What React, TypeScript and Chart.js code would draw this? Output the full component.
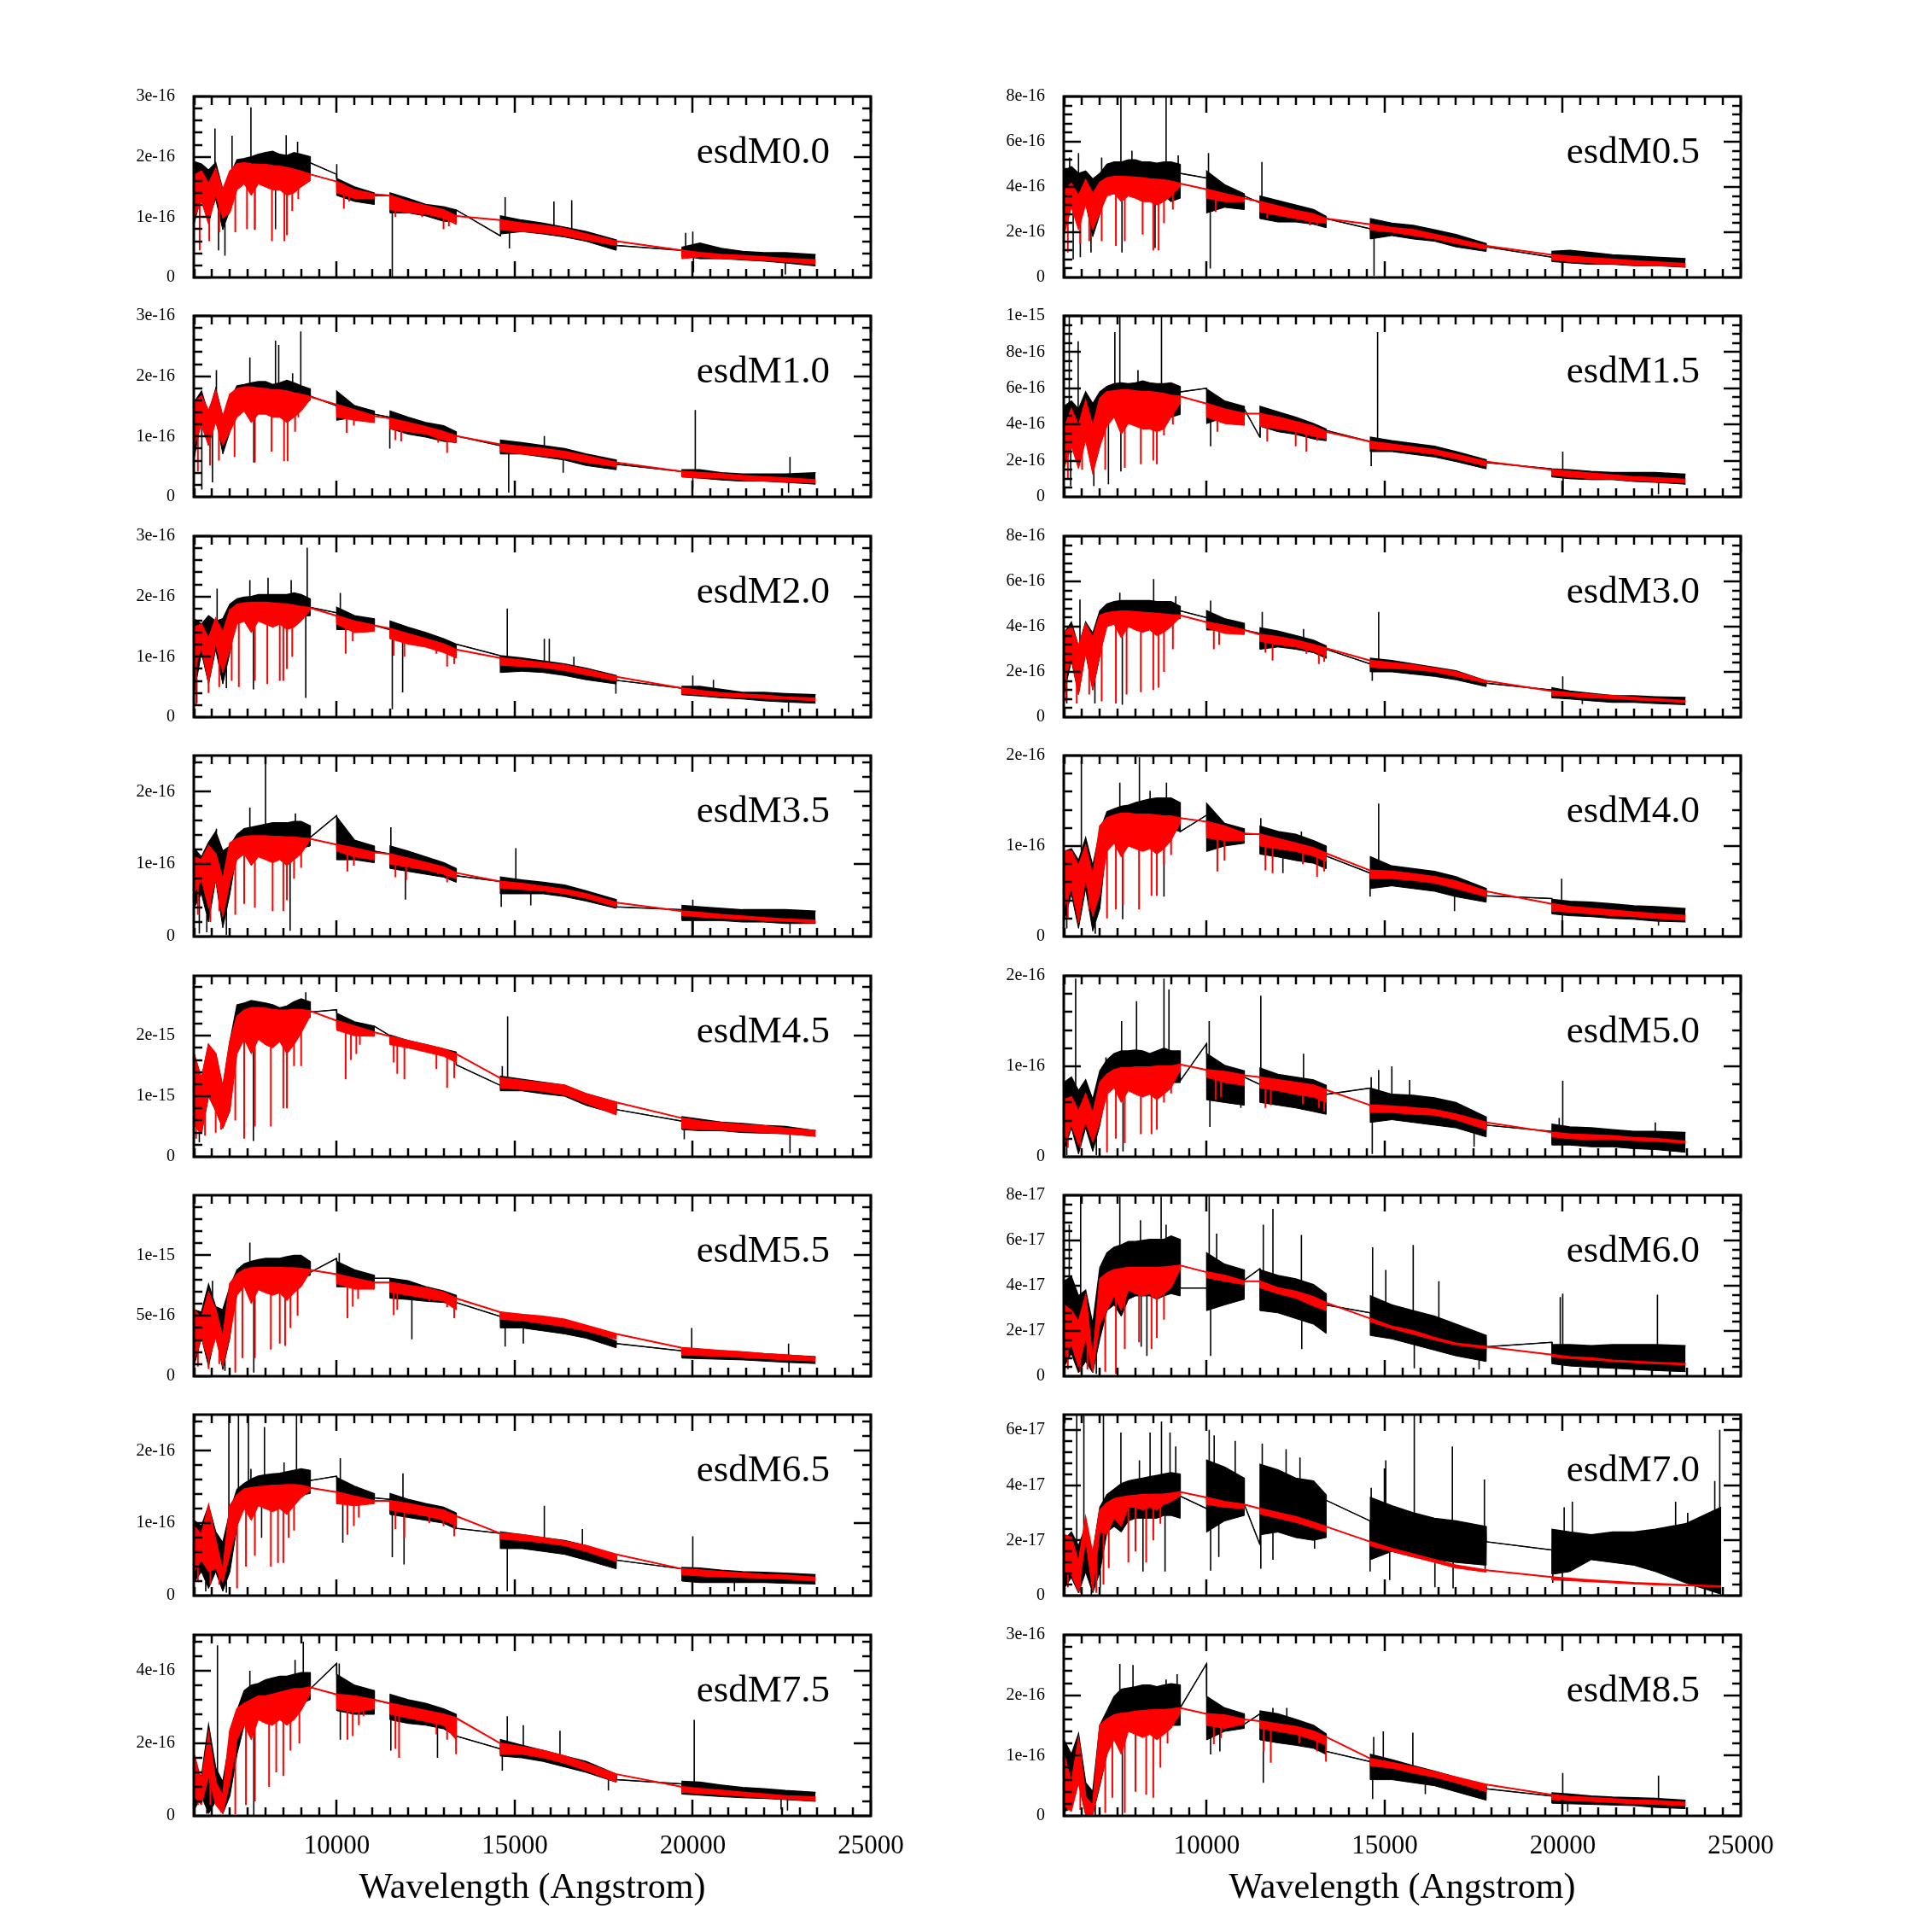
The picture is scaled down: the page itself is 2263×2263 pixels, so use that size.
import React, { useEffect, useRef } from "react";
import { Chart, registerables } from "chart.js";

Chart.register(...registerables);

const SERIF = "'Liberation Serif', 'Times New Roman', 'DejaVu Serif', serif";
Chart.defaults.font.family = SERIF;

const RED = "#ff0000";
const BLACK = "#000000";

// wavelength samples (Angstrom) of the five observing windows: optical, J (two parts), H, K
const GRID_OPT = [5990, 6200, 6400, 6600, 6800, 7000, 7200, 7400, 7600, 7800, 8000, 8200, 8400, 8600, 8800, 9000, 9250];
const GRID_J1 = [10000, 10500, 11050];
const GRID_J2 = [11500, 12000, 12500, 13000, 13350];
const GRID_H = [14600, 15200, 15800, 16400, 17000, 17850];
const GRID_K = [19700, 20200, 20800, 21400, 22000, 22600, 23450, 24450];
const WINDOWS = [GRID_OPT, GRID_J1, GRID_J2, GRID_H, GRID_K];

const X_MIN = 5985;
const X_MAX = 25000;
const X_TICKS = [10000, 15000, 20000, 25000];
const X_MINOR = 500;
const X_MAJOR = 5000;
const X_TITLE = "Wavelength (Angstrom)";

// ---- esdM0.0 (units 1e-16) ----
const M00_OBS_HI = [[1.92,1.88,1.78,1.9,1.45,1.69,1.95,1.97,2.0,2.04,2.07,2.09,2.04,2.02,2.07,2.04,2.0],[1.64,1.5,1.4],[1.4,1.31,1.21,1.17,1.12],[1.02,0.95,0.9,0.83,0.76,0.62],[0.5,0.57,0.48,0.43,0.41,0.41,0.38]];
const M00_OBS_LO = [[0.88,1.36,0.98,1.3,0.79,1.12,1.73,1.73,1.64,1.73,1.78,1.73,1.69,1.64,1.71,1.69,1.71],[1.36,1.26,1.21],[1.07,1.07,1.02,0.93,0.93],[0.72,0.76,0.72,0.67,0.6,0.45],[0.36,0.31,0.31,0.29,0.27,0.24,0.19]];
const M00_MOD_HI = [[1.69,1.76,1.55,1.8,1.45,1.76,1.88,1.9,1.88,1.87,1.87,1.85,1.84,1.82,1.79,1.76,1.71],[1.59,1.45,1.38],[1.36,1.26,1.19,1.12,1.02],[0.95,0.9,0.86,0.81,0.72,0.6],[0.45,0.41,0.38,0.36,0.34,0.31,0.29]];
const M00_MOD_LO = [[0.98,1.26,0.88,1.36,0.98,1.07,1.45,1.55,1.36,1.55,1.5,1.45,1.45,1.36,1.4,1.5,1.6],[1.4,1.31,1.31],[1.12,1.07,1.05,0.98,0.88],[0.79,0.76,0.74,0.69,0.62,0.53],[0.31,0.34,0.31,0.3,0.28,0.26,0.22]];
const M00_GAPS = [1.9,1.71,1.36,1.36,1.12,0.69,0.53,0.45];
const M00_SPIKES = [[6580,2.47],[7060,2.35],[7590,2.82],[8580,2.36],[8900,2.25],[6680,0.45],[6860,0.36],[7700,0.79],[8280,0.8],[10000,1.88],[11560,0.0],[14730,1.33],[16100,1.26],[16600,1.28],[14850,0.48],[19800,0.74],[20000,0.76],[20020,0.08],[22600,0.05]];
const M00_DIPS = [[6150,0.45],[6420,0.6],[6700,0.75],[7150,0.75],[7480,0.8],[7700,0.8],[8180,0.6],[8530,0.6],[8600,0.7],[8750,1.1],[8920,1.3],[10200,1.14],[10350,1.26],[11650,1.0],[12400,1.0],[13000,0.8],[13150,0.85]];
const M00_YLABELS = ["0", "1e-16", "2e-16", "3e-16"];

// ---- esdM0.5 (units 1e-16) ----
const M05_OBS_HI = [[4.7,4.9,4.6,4.7,4.35,4.6,5.0,5.1,5.1,5.2,5.2,5.1,5.1,5.05,5.1,5.1,5.0],[4.7,4.1,3.7],[3.6,3.4,3.2,3.0,2.7],[2.6,2.4,2.3,2.1,1.9,1.5],[1.15,1.2,1.1,1.0,0.95,0.9,0.83]];
const M05_OBS_LO = [[2.8,3.5,2.6,3.3,1.8,2.8,3.85,4.1,3.6,3.7,3.6,3.5,3.6,3.5,3.6,3.35,3.5],[2.85,3.1,3.0],[2.6,2.45,2.45,2.35,2.2],[1.7,1.85,1.7,1.6,1.35,1.15],[0.7,0.64,0.58,0.58,0.52,0.52,0.45]];
const M05_MOD_HI = [[3.85,4.15,3.6,4.3,3.7,4.2,4.4,4.45,4.45,4.44,4.42,4.4,4.35,4.33,4.3,4.25,4.15],[3.9,3.7,3.5],[3.35,3.15,2.95,2.8,2.6],[2.35,2.2,2.1,1.9,1.7,1.4],[1.0,0.93,0.86,0.8,0.73,0.68,0.6]];
const M05_MOD_LO = [[1.85,3.1,2.1,3.2,2.1,2.85,3.6,3.7,3.35,3.6,3.5,3.35,3.35,3.2,3.35,3.6,4.0],[3.5,3.35,3.35],[2.9,2.75,2.6,2.45,2.4],[2.1,2.0,1.85,1.7,1.5,1.25],[0.77,0.7,0.64,0.6,0.55,0.52,0.48]];
const M05_GAPS = [4.6,4.4,3.6,3.3,2.6,2.15,1.35,0.9];
const M05_SPIKES = [[6150,5.3],[6400,5.5],[7050,5.3],[7590,8.2],[7900,5.6],[8860,8.2],[9200,5.4],[6250,0.8],[6450,0.9],[6750,1.1],[7620,1.1],[8550,1.3],[10050,5.5],[10100,0.4],[11550,5.1],[14700,0.08],[20000,0.2]];
const M05_DIPS = [[6100,1.1],[6450,1.5],[6700,1.6],[7050,1.6],[7450,1.4],[7700,1.6],[8200,1.9],[8500,1.2],[8650,1.2],[8800,2.4],[9050,3.0],[10250,2.9],[11700,2.6],[12900,2.3],[13100,2.3]];
const M05_YLABELS = ["0", "2e-16", "4e-16", "6e-16", "8e-16"];

// ---- esdM1.0 (units 1e-16) ----
const M10_OBS_HI = [[1.56,1.75,1.37,1.79,1.32,1.6,1.84,1.86,1.89,1.91,1.91,1.86,1.89,1.93,1.89,1.84,1.79],[1.75,1.51,1.42],[1.42,1.32,1.23,1.18,1.08],[0.94,0.9,0.85,0.8,0.71,0.61],[0.45,0.45,0.4,0.38,0.38,0.38,0.4]];
const M10_OBS_LO = [[0.61,1.32,0.85,1.32,0.71,1.08,1.56,1.7,1.65,1.7,1.7,1.65,1.6,1.56,1.6,1.56,1.6],[1.27,1.32,1.27],[1.13,1.04,0.99,0.92,0.9],[0.71,0.71,0.66,0.61,0.52,0.45],[0.33,0.31,0.28,0.26,0.26,0.24,0.21]];
const M10_MOD_HI = [[1.56,1.67,1.42,1.75,1.32,1.7,1.79,1.82,1.82,1.8,1.79,1.77,1.77,1.75,1.72,1.7,1.66],[1.53,1.44,1.34],[1.3,1.23,1.16,1.08,1.01],[0.87,0.83,0.8,0.75,0.68,0.57],[0.42,0.4,0.38,0.35,0.33,0.31,0.28]];
const M10_MOD_LO = [[0.85,1.18,0.85,1.23,0.85,1.08,1.32,1.42,1.23,1.37,1.37,1.32,1.32,1.23,1.32,1.42,1.61],[1.32,1.27,1.23],[1.13,1.08,1.04,0.94,0.9],[0.75,0.71,0.68,0.64,0.57,0.5],[0.33,0.31,0.31,0.28,0.26,0.25,0.23]];
const M10_GAPS = [1.67,1.51,1.37,1.32,1.01,0.85,0.54,0.42];
const M10_SPIKES = [[6620,2.1],[7560,2.31],[8280,2.59],[8370,2.52],[8990,2.74],[8760,2.05],[6210,0.12],[6510,0.24],[7670,0.57],[11490,0.8],[14830,0.07],[15830,1.01],[16360,0.4],[20070,1.44],[20000,0.15],[22730,0.66],[22690,0.07]];
const M10_DIPS = [[6100,0.42],[6440,0.52],[6690,0.6],[7130,0.66],[7700,0.57],[8170,0.75],[8520,0.59],[8620,0.59],[8830,1.08],[8920,1.32],[10280,1.06],[10480,1.18],[11650,0.94],[11810,0.92],[12850,0.9],[13100,0.73]];
const M10_YLABELS = ["0", "1e-16", "2e-16", "3e-16"];

// ---- esdM1.5 (units 1e-16) ----
const M15_OBS_HI = [[5.0,5.3,4.85,5.8,5.15,5.8,6.1,6.25,6.3,6.25,6.3,6.4,6.3,6.25,6.25,6.3,6.1],[5.95,5.3,5.0],[5.0,4.7,4.4,4.05,3.75],[3.3,3.1,2.95,2.8,2.5,2.05],[1.55,1.5,1.4,1.35,1.35,1.35,1.25]];
const M15_OBS_LO = [[2.8,3.6,2.35,3.6,1.4,2.8,4.4,4.85,4.4,4.7,4.55,4.4,4.4,4.25,4.4,4.4,4.55],[4.05,4.4,4.2],[3.9,3.6,3.45,3.2,3.1],[2.5,2.5,2.35,2.2,1.95,1.55],[1.1,1.0,0.95,0.95,0.85,0.8,0.7]];
const M15_MOD_HI = [[3.75,4.85,3.9,5.3,3.9,5.45,5.8,5.85,5.9,5.9,5.85,5.8,5.8,5.75,5.7,5.6,5.55],[5.15,4.85,4.6],[4.6,4.4,4.15,3.9,3.6],[3.05,2.9,2.75,2.6,2.35,1.95],[1.5,1.4,1.3,1.2,1.1,1.05,0.95]];
const M15_MOD_LO = [[1.55,2.8,1.55,3.1,1.25,2.8,3.9,4.4,3.45,4.05,3.9,3.75,3.75,3.6,3.75,4.4,5.15],[4.4,4.05,3.95],[3.9,3.75,3.6,3.35,3.2],[2.65,2.6,2.5,2.35,2.1,1.7],[1.2,1.1,1.0,0.97,0.9,0.84,0.78]];
const M15_GAPS = [5.8,6.0,4.85,3.3,3.67,3.05,1.9,1.55];
const M15_SPIKES = [[7420,9.1],[7560,10.5],[8730,10.5],[6390,8.6],[6140,10.5],[8070,7.0],[6180,0.6],[7240,0.7],[6830,0.6],[7590,1.4],[10110,2.8],[14800,9.1],[14620,1.7],[20000,2.5],[20010,0.1],[22690,0.15]];
const M15_DIPS = [[6100,1.0],[6500,1.5],[7150,1.5],[7700,1.6],[8150,1.8],[8500,2.0],[8600,1.8],[8800,3.4],[9050,4.0],[10300,3.6],[11700,3.05],[12500,2.8],[12800,2.5],[13100,3.1]];
const M15_YLABELS = ["0", "2e-16", "4e-16", "6e-16", "8e-16", "1e-15"];

// ---- esdM2.0 (units 1e-16) ----
const M20_OBS_HI = [[1.63,1.54,1.68,1.59,1.63,1.87,1.96,1.99,2.0,2.03,2.03,2.03,2.03,2.03,2.06,2.03,1.96],[1.82,1.68,1.63],[1.59,1.49,1.4,1.3,1.21],[1.02,0.98,0.93,0.88,0.81,0.69],[0.51,0.51,0.46,0.41,0.41,0.39,0.37]];
const M20_OBS_LO = [[0.37,1.07,0.55,1.12,0.55,1.07,1.68,1.68,1.59,1.73,1.73,1.68,1.68,1.68,1.68,1.68,1.68],[1.45,1.45,1.45],[1.3,1.26,1.21,1.12,1.02],[0.74,0.76,0.74,0.69,0.62,0.55],[0.37,0.35,0.32,0.3,0.27,0.25,0.23]];
const M20_MOD_HI = [[1.49,1.54,1.3,1.63,1.4,1.77,1.87,1.89,1.9,1.9,1.9,1.89,1.88,1.87,1.85,1.83,1.81],[1.68,1.59,1.52],[1.47,1.38,1.3,1.21,1.12],[0.98,0.94,0.9,0.86,0.79,0.67],[0.48,0.44,0.4,0.38,0.36,0.33,0.31]];
const M20_MOD_LO = [[0.74,1.16,0.55,1.21,0.74,1.12,1.54,1.59,1.4,1.59,1.54,1.49,1.54,1.45,1.49,1.59,1.77],[1.54,1.4,1.42],[1.3,1.21,1.16,1.07,0.98],[0.86,0.84,0.82,0.77,0.7,0.6],[0.39,0.37,0.34,0.33,0.31,0.3,0.27]];
const M20_GAPS = [1.82,1.73,1.52,1.45,1.21,1.02,0.61,0.48];
const M20_SPIKES = [[6640,2.13],[7560,2.27],[8720,2.27],[9170,2.81],[8070,2.31],[6070,0.23],[6900,0.48],[7660,0.46],[9130,0.32],[10100,2.06],[11560,0.13],[11850,0.41],[14790,1.8],[15830,1.3],[15970,1.3],[16660,1.0],[17840,0.39],[20000,0.69],[20580,0.62],[22690,0.08]];
const M20_DIPS = [[6050,0.2],[6400,0.4],[6700,0.5],[7050,0.6],[7250,0.5],[7700,0.6],[8050,0.55],[8400,0.6],[8500,0.6],[8600,0.8],[8750,1.0],[10250,1.05],[10450,1.26],[11600,1.02],[11900,1.0],[12800,1.05],[13100,0.84],[13300,0.88]];
const M20_YLABELS = ["0", "1e-16", "2e-16", "3e-16"];

// ---- esdM3.0 (units 1e-16) ----
const M30_OBS_HI = [[3.7,4.2,3.1,4.2,3.7,4.7,5.0,5.1,5.15,5.15,5.15,5.15,5.15,5.1,5.1,5.1,4.9],[4.7,4.35,4.15],[3.95,3.8,3.6,3.4,3.15],[2.6,2.5,2.35,2.2,2.05,1.6],[1.3,1.15,1.05,0.95,0.94,0.9,0.87]];
const M30_OBS_LO = [[1.0,2.5,1.0,2.85,1.2,2.7,4.35,4.5,4.2,4.5,4.5,4.35,4.35,4.35,4.3,4.3,4.35],[3.85,3.85,3.7],[3.0,3.1,3.0,2.85,2.6],[2.0,2.0,1.9,1.8,1.65,1.35],[0.85,0.8,0.72,0.65,0.65,0.6,0.55]];
const M30_MOD_HI = [[3.7,4.0,3.1,4.1,3.5,4.5,4.6,4.65,4.68,4.68,4.65,4.62,4.6,4.58,4.55,4.52,4.5],[4.2,4.05,3.85],[3.65,3.55,3.4,3.2,3.05],[2.5,2.4,2.3,2.15,2.0,1.6],[1.15,1.07,1.0,0.94,0.87,0.8,0.72]];
const M30_MOD_LO = [[1.5,2.6,1.0,2.85,1.2,2.75,4.0,4.1,3.5,4.0,3.85,3.75,3.85,3.6,3.75,4.0,4.4],[3.95,3.7,3.65],[3.35,3.2,3.1,2.9,2.7],[2.2,2.15,2.1,2.0,1.8,1.5],[0.97,0.92,0.85,0.82,0.76,0.72,0.64]];
const M30_GAPS = [4.7,4.4,3.85,3.7,3.0,2.35,1.5,1.2];
const M30_SPIKES = [[6440,5.2],[7560,5.5],[8510,6.1],[9130,5.35],[6070,0.6],[6860,0.6],[7630,0.55],[10110,5.15],[11560,4.65],[12720,3.9],[14830,4.65],[14650,1.6],[20000,1.8],[20550,0.58]];
const M30_DIPS = [[6050,0.7],[6350,0.6],[6700,1.0],[7050,0.7],[7450,0.6],[7750,1.0],[8150,1.1],[8500,1.2],[8650,1.3],[8800,2.0],[9050,3.0],[10200,3.0],[10350,3.2],[11650,2.85],[11850,2.5],[12800,2.8],[13150,2.35],[13300,2.45]];
const M30_YLABELS = ["0", "2e-16", "4e-16", "6e-16", "8e-16"];

// ---- esdM3.5 (units 1e-16) ----
const M35_OBS_HI = [[1.22,1.1,1.3,1.45,1.18,1.25,1.41,1.49,1.51,1.53,1.55,1.57,1.57,1.57,1.59,1.59,1.53],[1.65,1.33,1.25],[1.25,1.18,1.1,1.02,0.94],[0.82,0.78,0.75,0.71,0.63,0.51],[0.43,0.41,0.39,0.37,0.37,0.37,0.35]];
const M35_OBS_LO = [[0.39,0.59,0.2,0.78,0.12,0.59,1.18,1.25,1.14,1.25,1.25,1.22,1.22,1.18,1.22,1.22,1.25],[1.06,1.06,1.02],[0.94,0.9,0.86,0.82,0.75],[0.59,0.59,0.59,0.55,0.49,0.39],[0.22,0.22,0.22,0.2,0.2,0.18,0.18]];
const M35_MOD_HI = [[1.1,1.06,1.25,1.14,0.78,1.29,1.35,1.38,1.39,1.39,1.39,1.38,1.38,1.37,1.37,1.36,1.35],[1.27,1.22,1.16],[1.14,1.08,1.02,0.96,0.88],[0.76,0.73,0.69,0.65,0.59,0.47],[0.35,0.33,0.3,0.28,0.26,0.24,0.22]];
const M35_MOD_LO = [[0.59,0.78,0.39,0.78,0.27,0.75,1.06,1.14,0.98,1.1,1.06,1.02,1.06,0.98,1.06,1.14,1.33],[1.18,1.1,1.06],[1.0,0.96,0.92,0.86,0.8],[0.67,0.65,0.63,0.59,0.53,0.41],[0.29,0.27,0.25,0.24,0.22,0.21,0.19]];
const M35_GAPS = [1.37,1.67,1.18,1.14,0.84,0.76,0.41,0.37];
const M35_SPIKES = [[8000,2.5],[7560,1.78],[8840,1.7],[6620,1.49],[6140,0.04],[6900,0.02],[8690,0.08],[6350,0.06],[11520,1.51],[11930,0.51],[15030,1.22],[14620,0.41],[15450,0.43],[20000,0.51],[20010,0.02],[22730,0.04]];
const M35_DIPS = [[6100,0.3],[6450,0.2],[6700,0.35],[7150,0.3],[7400,0.45],[7700,0.4],[8200,0.35],[8500,0.35],[8600,0.5],[8800,0.8],[9000,0.95],[10300,0.9],[10480,0.98],[11650,0.82],[11950,0.78],[12850,0.86],[13100,0.75]];
const M35_YLABELS = ["0", "1e-16", "2e-16"];

// ---- esdM4.0 (units 1e-16) ----
const M40_OBS_HI = [[0.94,0.97,0.84,1.09,0.78,1.16,1.38,1.41,1.44,1.45,1.48,1.5,1.52,1.53,1.53,1.53,1.48],[1.47,1.25,1.19],[1.22,1.16,1.13,1.06,1.0],[0.88,0.78,0.75,0.72,0.66,0.53],[0.41,0.39,0.38,0.36,0.34,0.33,0.31]];
const M40_OBS_LO = [[0.16,0.47,0.09,0.53,0.06,0.31,1.09,1.13,1.03,1.16,1.16,1.13,1.13,1.09,1.16,1.19,1.16],[0.94,1.0,1.03],[0.91,0.88,0.84,0.81,0.75],[0.53,0.56,0.53,0.5,0.44,0.38],[0.25,0.23,0.22,0.2,0.19,0.17,0.16]];
const M40_MOD_HI = [[0.94,0.94,0.78,1.0,0.66,1.22,1.31,1.34,1.36,1.36,1.35,1.35,1.35,1.34,1.33,1.33,1.31],[1.27,1.22,1.14],[1.13,1.08,1.03,0.98,0.92],[0.73,0.72,0.69,0.66,0.61,0.5],[0.36,0.33,0.31,0.29,0.27,0.25,0.23]];
const M40_MOD_LO = [[0.31,0.53,0.16,0.63,0.22,0.47,0.94,1.03,0.88,1.0,0.97,0.94,0.97,0.91,0.97,1.06,1.25],[1.09,1.06,1.06],[1.0,0.97,0.94,0.89,0.83],[0.64,0.64,0.62,0.59,0.53,0.44],[0.28,0.27,0.25,0.23,0.22,0.2,0.18]];
const M40_GAPS = [1.16,1.34,1.13,1.13,0.89,0.7,0.45,0.42];
const M40_SPIKES = [[6480,1.94],[7560,1.7],[8110,1.98],[8870,1.7],[8410,1.61],[6070,0.09],[6870,0.03],[7640,0.19],[8800,0.44],[11520,1.31],[12660,1.16],[12140,0.7],[14830,1.47],[14590,0.44],[16960,0.28],[19970,0.64],[19990,0.09],[22690,0.12]];
const M40_DIPS = [[6100,0.2],[6400,0.15],[6700,0.3],[7200,0.2],[7450,0.3],[7650,0.35],[8100,0.3],[8450,0.45],[8600,0.45],[8800,0.8],[9000,0.9],[10300,0.72],[10500,0.84],[11650,0.73],[11850,0.7],[12700,0.8],[13100,0.66],[13300,0.72]];
const M40_YLABELS = ["0", "1e-16", "2e-16"];

// ---- esdM4.5 (units 1e-15) ----
const M45_OBS_HI = [[1.7,1.28,1.85,1.7,1.14,1.9,2.51,2.54,2.58,2.56,2.54,2.51,2.46,2.49,2.56,2.61,2.56],[2.37,2.23,2.16],[2.01,1.92,1.85,1.78,1.73],[1.33,1.28,1.23,1.18,1.04,0.9],[0.66,0.62,0.57,0.55,0.52,0.5,0.43]];
const M45_OBS_LO = [[0.52,0.38,1.0,0.76,0.47,0.76,2.2,2.3,2.2,2.3,2.25,2.2,2.2,2.15,2.3,2.3,2.3],[2.13,2.08,2.06],[1.88,1.8,1.75,1.7,1.66],[1.09,1.09,1.04,1.0,0.85,0.71],[0.45,0.43,0.43,0.4,0.39,0.38,0.34]];
const M45_MOD_HI = [[1.7,1.28,1.85,1.7,1.14,1.9,2.32,2.42,2.46,2.46,2.45,2.43,2.42,2.42,2.43,2.43,2.41],[2.25,2.16,2.06],[1.99,1.92,1.85,1.78,1.7],[1.3,1.26,1.22,1.18,1.04,0.9],[0.64,0.59,0.56,0.53,0.51,0.47,0.43]];
const M45_MOD_LO = [[0.52,0.38,1.0,0.76,0.47,0.76,1.7,1.94,1.7,1.94,1.85,1.8,1.9,1.7,1.85,2.04,2.32],[2.09,2.0,1.99],[1.85,1.8,1.73,1.66,1.56],[1.14,1.11,1.08,1.02,0.88,0.69],[0.47,0.45,0.44,0.42,0.4,0.38,0.34]];
const M45_GAPS = [2.39,2.43,2.16,2.0,1.52,1.18,0.78,0.59];
const M45_SPIKES = [[7590,2.56],[9130,2.72],[7660,0.26],[6140,0.24],[14800,2.32],[14650,1.5],[22730,0.06],[19760,0.29]];
const M45_DIPS = [[6050,0.3],[6300,0.35],[6600,0.4],[6750,0.45],[7150,0.6],[7400,0.3],[7700,0.5],[8150,0.5],[8500,0.8],[8600,0.8],[8800,1.5],[9000,1.5],[10250,1.28],[10400,1.6],[10550,1.7],[10650,1.85],[11600,1.56],[11700,1.37],[11900,1.28],[12800,1.45],[13100,1.14],[13300,1.3]];
const M45_YLABELS = ["0", "1e-15", "2e-15"];

// ---- esdM5.0 (units 1e-16) ----
const M50_OBS_HI = [[0.82,0.88,0.73,0.85,0.63,0.95,1.07,1.14,1.17,1.17,1.18,1.17,1.14,1.17,1.2,1.17,1.17],[1.14,1.01,0.95],[0.98,0.91,0.88,0.85,0.79],[0.76,0.69,0.68,0.65,0.6,0.44],[0.36,0.33,0.32,0.3,0.28,0.28,0.27]];
const M50_OBS_LO = [[0.06,0.32,0.03,0.32,0.06,0.35,0.76,0.82,0.73,0.82,0.82,0.79,0.76,0.73,0.79,0.82,0.82],[0.63,0.6,0.57],[0.6,0.57,0.54,0.5,0.47],[0.38,0.41,0.38,0.35,0.32,0.22],[0.13,0.13,0.11,0.11,0.09,0.08,0.05]];
const M50_MOD_HI = [[0.63,0.66,0.5,0.69,0.47,0.82,0.91,0.96,0.98,0.98,0.99,0.99,0.99,1.0,1.0,1.0,1.02],[0.96,0.94,0.9],[0.88,0.85,0.82,0.79,0.74],[0.57,0.56,0.54,0.52,0.47,0.38],[0.27,0.25,0.24,0.23,0.21,0.2,0.17]];
const M50_MOD_LO = [[0.13,0.35,0.13,0.38,0.16,0.38,0.69,0.76,0.6,0.73,0.69,0.66,0.69,0.63,0.69,0.76,0.95],[0.88,0.82,0.79],[0.76,0.73,0.69,0.66,0.6],[0.49,0.49,0.47,0.46,0.41,0.3],[0.22,0.2,0.19,0.19,0.18,0.17,0.15]];
const M50_GAPS = [0.84,1.25,0.88,0.8,0.69,0.76,0.35,0.28];
const M50_SPIKES = [[6320,1.97],[7610,1.5],[8030,1.72],[8800,1.97],[8940,1.85],[7170,1.1],[6070,0.02],[6900,0.02],[7650,0.06],[10070,1.5],[10090,0.33],[10960,0.54],[11520,1.78],[12720,1.14],[14620,0.88],[14830,0.96],[15700,0.85],[15200,1.0],[14650,0.03],[17510,0.11],[20000,0.84],[19900,0.43],[22600,0.38]];
const M50_DIPS = [[6100,0.1],[6450,0.1],[6700,0.3],[7200,0.05],[7450,0.2],[7700,0.15],[8150,0.25],[8450,0.25],[8600,0.3],[8800,0.6],[9000,0.7],[10250,0.63],[10400,0.66],[11650,0.54],[11800,0.57],[12700,0.58],[13150,0.54],[13300,0.5]];
const M50_YLABELS = ["0", "1e-16", "2e-16"];

// ---- esdM5.5 (units 1e-16) ----
const M55_OBS_HI = [[5.5,5.3,7.6,5.75,5.5,7.4,8.8,9.3,9.5,9.65,9.75,9.75,9.75,9.9,10.0,10.0,9.5],[9.5,8.8,8.35],[8.1,7.9,7.4,7.05,6.7],[5.3,4.95,4.6,4.35,3.9,2.9],[2.35,2.2,2.1,2.0,1.85,1.75,1.6]];
const M55_OBS_LO = [[0.8,3.2,0.8,3.6,0.55,3.2,7.9,8.35,7.6,8.35,8.35,8.1,8.1,7.9,8.1,8.2,8.35],[7.4,7.4,7.4],[6.45,6.35,6.2,6.1,5.9],[4.0,4.0,3.75,3.5,3.15,2.35],[1.5,1.45,1.4,1.35,1.25,1.15,1.05]];
const M55_MOD_HI = [[5.5,4.8,6.9,5.5,3.15,7.65,8.45,8.8,8.95,9.0,9.0,9.0,9.0,8.95,8.95,8.9,8.8],[8.45,8.1,7.75],[7.75,7.5,7.3,6.95,6.45],[5.3,5.1,4.95,4.7,4.2,3.5],[2.35,2.25,2.1,2.0,1.85,1.75,1.55]];
const M55_MOD_LO = [[1.25,3.15,1.25,3.15,0.8,3.4,6.7,7.4,6.0,7.15,6.9,6.7,6.9,6.25,6.9,7.4,8.6],[7.65,7.2,7.2],[6.95,6.7,6.45,6.2,5.5],[4.7,4.6,4.35,4.1,3.75,3.05],[1.75,1.7,1.65,1.55,1.45,1.35,1.25]];
const M55_GAPS = [8.6,9.75,8.1,8.1,6.1,4.95,2.7,2.1];
const M55_SPIKES = [[7560,11.05],[6510,7.9],[7670,0.3],[6860,0.45],[10070,10.2],[12110,3.05],[14730,2.45],[15240,2.7],[19970,4.0],[22690,2.7],[22700,0.33]];
const M55_DIPS = [[6100,0.8],[6400,0.6],[6700,1.0],[7150,0.3],[7350,1.5],[7700,1.5],[8150,2.2],[8400,2.7],[8550,2.5],[8700,4.0],[8900,5.0],[10300,4.8],[10450,5.75],[10600,6.4],[11600,5.05],[11700,5.5],[12600,6.2],[13100,5.7],[13300,4.8]];
const M55_YLABELS = ["0", "5e-16", "1e-15"];

// ---- esdM6.0 (units 1e-17) ----
const M60_OBS_HI = [[4.2,4.4,3.55,3.8,2.3,4.8,5.45,5.7,5.8,5.95,5.95,6.0,6.05,6.05,6.05,6.2,6.05],[5.45,4.95,4.7],[4.7,4.45,4.3,4.05,3.65],[3.55,3.15,2.9,2.65,2.3,1.8],[1.4,1.4,1.35,1.4,1.4,1.4,1.35]];
const M60_OBS_LO = [[0.4,1.0,0.15,0.65,0.15,1.65,2.9,3.15,2.65,3.4,3.55,3.55,3.55,3.4,3.55,3.65,3.55],[2.9,3.15,3.4],[2.9,2.8,2.55,2.3,1.9],[1.8,1.65,1.4,1.15,0.9,0.65],[0.55,0.45,0.4,0.35,0.3,0.25,0.2]];
const M60_MOD_HI = [[3.15,2.9,2.4,3.55,0.65,4.3,4.55,4.7,4.75,4.8,4.8,4.8,4.8,4.8,4.82,4.85,4.9],[4.6,4.45,4.2],[4.2,3.9,3.75,3.5,3.25],[2.55,2.2,2.0,1.7,1.45,1.3],[0.95,0.85,0.8,0.7,0.65,0.6,0.55]];
const M60_MOD_LO = [[0.65,1.4,0.4,1.65,0.15,2.3,2.9,3.55,2.9,3.8,3.65,3.55,3.65,3.4,3.65,3.9,4.7],[4.35,4.2,4.05],[3.9,3.65,3.45,3.1,2.9],[2.4,2.1,1.85,1.6,1.38,1.22],[0.85,0.78,0.72,0.65,0.6,0.55,0.5]];
const M60_GAPS = [3.9,3.9,4.25,4.75,3.15,2.8,1.3,1.5];
const M60_SPIKES = [[6460,7.95],[7560,7.95],[8140,6.9],[8720,7.95],[8860,6.7],[6140,6.7],[6480,0.1],[6900,0.1],[8160,1.3],[8320,0.9],[10070,7.95],[10280,6.3],[10110,0.9],[11860,7.4],[11590,6.7],[12660,6.25],[12670,1.2],[14660,5.7],[15030,4.7],[15800,5.8],[16520,4.2],[15830,0.35],[17650,0.3],[20000,3.65],[19930,3.5],[22660,3.6]];
const M60_DIPS = [[6100,0.3],[6450,0.2],[6650,0.3],[7150,0.2],[7450,0.1],[7700,1.2],[8100,1.5],[8450,1.2],[8600,1.7],[8800,2.5]];
const M60_YLABELS = ["0", "2e-17", "4e-17", "6e-17", "8e-17"];

// ---- esdM6.5 (units 1e-16) ----
const M65_OBS_HI = [[1.04,0.96,1.24,0.88,0.73,1.16,1.47,1.55,1.61,1.65,1.67,1.68,1.69,1.71,1.73,1.75,1.73],[1.63,1.51,1.41],[1.41,1.33,1.27,1.22,1.14],[0.88,0.84,0.8,0.76,0.69,0.55],[0.39,0.38,0.35,0.33,0.32,0.31,0.29]];
const M65_OBS_LO = [[0.18,0.33,0.1,0.33,0.06,0.33,0.96,1.31,1.24,1.35,1.35,1.35,1.35,1.35,1.39,1.39,1.41],[1.27,1.31,1.31],[1.12,1.08,1.04,1.0,0.92],[0.65,0.65,0.61,0.57,0.49,0.37],[0.2,0.18,0.18,0.18,0.18,0.17,0.16]];
const M65_MOD_HI = [[0.96,0.84,1.24,0.76,0.33,1.24,1.39,1.47,1.49,1.5,1.51,1.52,1.52,1.53,1.53,1.52,1.49],[1.43,1.37,1.31],[1.31,1.27,1.22,1.18,1.1],[0.86,0.84,0.8,0.75,0.69,0.57],[0.37,0.35,0.33,0.31,0.29,0.28,0.25]];
const M65_MOD_LO = [[0.33,0.49,0.33,0.37,0.18,0.57,0.96,1.2,1.04,1.24,1.2,1.16,1.2,1.12,1.24,1.35,1.45],[1.27,1.24,1.27],[1.18,1.14,1.1,1.04,0.96],[0.78,0.76,0.73,0.69,0.61,0.47],[0.29,0.27,0.26,0.25,0.24,0.23,0.2]];
const M65_GAPS = [1.59,1.65,1.35,1.33,0.93,0.86,0.49,0.37];
const M65_SPIKES = [[6970,2.6],[7240,2.6],[7520,2.6],[7590,1.75],[7970,2.33],[8520,1.84],[8870,2.6],[6320,0.06],[6900,0.04],[7890,0.8],[10100,1.9],[10170,0.73],[11860,1.69],[11560,0.53],[11890,0.43],[15830,1.24],[16900,0.92],[14790,0.06],[20000,0.82],[21170,0.06]];
const M65_DIPS = [[6100,0.2],[6450,0.15],[6700,0.15],[7200,0.1],[7450,0.4],[7700,0.55],[8150,0.4],[8350,0.45],[8500,0.45],[8650,0.8],[8800,0.9],[10300,0.84],[10480,0.96],[10620,1.08],[11650,0.92],[11900,0.8],[12600,1.0],[13000,0.96],[13300,0.82]];
const M65_YLABELS = ["0", "1e-16", "2e-16"];

// ---- esdM7.0 (units 1e-17) ----
const M70_OBS_HI = [[2.0,2.3,1.8,2.5,1.5,3.2,3.65,3.85,4.05,4.15,4.2,4.25,4.3,4.35,4.4,4.45,4.4],[4.9,4.65,4.25],[4.75,4.55,4.25,4.15,3.65],[3.55,3.25,3.0,2.8,2.7,2.5],[2.4,2.3,2.2,2.3,2.3,2.4,2.6,3.2]];
const M70_OBS_LO = [[0.25,0.65,0.1,0.85,0.1,0.85,2.3,2.5,2.3,2.7,2.8,2.8,2.8,2.8,2.9,2.9,2.8],[2.3,2.7,2.9],[2.2,2.3,2.1,2.0,2.1],[1.3,1.6,1.4,1.3,1.2,1.1],[0.77,0.87,1.3,1.2,1.1,0.87,0.46,0.05]];
const M70_MOD_HI = [[2.2,2.1,1.2,2.8,1.5,3.1,3.35,3.5,3.55,3.6,3.62,3.65,3.65,3.66,3.67,3.7,3.75],[3.55,3.4,3.3],[3.15,3.0,2.85,2.65,2.5],[1.95,1.7,1.5,1.3,1.1,0.92],[0.67,0.62,0.56,0.51,0.46,0.43,0.39,0.34]];
const M70_MOD_LO = [[0.85,0.75,0.15,2.0,0.15,2.3,2.2,2.8,2.5,3.2,3.2,3.1,3.2,3.1,3.3,3.4,3.6],[3.3,3.2,3.15],[2.95,2.8,2.65,2.45,2.3],[1.8,1.6,1.4,1.2,1.0,0.85],[0.57,0.54,0.5,0.46,0.42,0.39,0.36,0.31]];
const M70_GAPS = [3.6,3.15,3.3,1.85,3.45,2.7,1.95,1.65];
const M70_SPIKES = [[6350,6.6],[6550,6.6],[7100,6.6],[7590,5.9],[8410,5.9],[8730,6.3],[8970,5.9],[9130,5.4],[8110,4.9],[6760,0.02],[7010,0.3],[8210,0.87],[8830,0.87],[10070,6.0],[10210,5.8],[10800,5.6],[10110,0.9],[10340,1.4],[11560,5.5],[12230,5.3],[12620,5.0],[11520,0.97],[11860,1.3],[13030,1.7],[14620,3.9],[14990,4.6],[15030,4.9],[15830,6.6],[16900,5.4],[17800,4.2],[14590,0.87],[15140,0.56],[16410,0.3],[16920,0.26],[17820,0.87],[20040,3.2],[20270,3.4],[23170,3.4],[24270,4.15],[24410,6.0],[23510,3.0],[19720,0.46],[19990,0.26],[23720,0.05],[24200,0.0]];
const M70_DIPS = [[6100,0.3],[6450,0.1],[6900,0.1],[7100,0.4],[7250,1.0],[7800,1.2],[8000,1.6],[8300,1.2],[8500,2.0],[8700,2.6]];
const M70_YLABELS = ["0", "2e-17", "4e-17", "6e-17"];

// ---- esdM7.5 (units 1e-16) ----
const M75_OBS_HI = [[1.32,1.08,2.5,1.32,0.93,2.1,2.9,3.45,3.6,3.65,3.75,3.8,3.85,3.85,3.9,3.95,3.95],[3.9,3.6,3.45],[3.35,3.2,3.1,2.95,2.8],[2.1,1.95,1.8,1.65,1.5,1.15],[0.95,0.93,0.85,0.78,0.75,0.7,0.65]];
const M75_OBS_LO = [[0.15,0.55,0.06,0.4,0.06,0.55,1.7,2.5,2.5,2.9,2.95,2.95,3.05,2.95,3.05,3.1,3.2],[2.9,2.8,2.8],[2.65,2.55,2.5,2.4,2.2],[1.65,1.6,1.5,1.35,1.2,0.93],[0.6,0.57,0.53,0.5,0.48,0.45,0.4]];
const M75_MOD_HI = [[1.7,0.93,2.25,0.93,0.53,2.35,2.95,3.1,3.2,3.3,3.3,3.35,3.4,3.45,3.5,3.5,3.55],[3.35,3.3,3.2],[3.1,3.0,2.9,2.8,2.7],[2.0,1.9,1.8,1.65,1.45,1.15],[0.8,0.75,0.7,0.65,0.6,0.55,0.52]];
const M75_MOD_LO = [[0.53,0.3,1.08,0.3,0.06,0.93,2.1,2.5,2.1,2.65,2.55,2.5,2.65,2.5,2.65,2.9,3.35],[2.95,2.85,2.95],[2.8,2.7,2.6,2.5,2.1],[1.7,1.7,1.6,1.45,1.25,0.93],[0.65,0.62,0.58,0.54,0.5,0.46,0.42]];
const M75_GAPS = [3.5,4.2,3.2,3.1,2.2,1.85,1.0,0.88];
const M75_SPIKES = [[6650,4.7],[7560,4.0],[9060,4.8],[8830,4.3],[6350,0.06],[7670,0.02],[10070,4.2],[10100,2.1],[12830,1.6],[11520,1.8],[14790,2.75],[15240,2.5],[16270,2.35],[14650,1.25],[17630,0.7],[20040,2.65],[22660,0.15],[22480,0.18]];
const M75_DIPS = [[6100,0.3],[6450,0.3],[6750,0.1],[7150,0.05],[7450,0.3],[7700,0.4],[8100,0.8],[8300,1.2],[8500,1.1],[8700,1.8],[8950,2.0],[10300,2.1],[10450,2.2],[10620,2.5],[10750,2.75],[11650,1.85],[11750,1.6],[12800,2.25],[13100,2.1],[13350,1.7]];
const M75_YLABELS = ["0", "2e-16", "4e-16"];

// ---- esdM8.5 (units 1e-16) ----
const M85_OBS_HI = [[1.26,1.02,1.36,0.55,0.4,1.5,1.74,1.98,2.1,2.12,2.14,2.17,2.17,2.14,2.17,2.19,2.17],[1.98,1.79,1.69],[1.74,1.69,1.6,1.5,1.36],[1.02,0.93,0.83,0.74,0.64,0.5],[0.38,0.36,0.33,0.31,0.3,0.29,0.26]];
const M85_OBS_LO = [[0.07,0.12,0.55,0.02,0.02,0.5,1.02,1.5,1.5,1.64,1.69,1.64,1.6,1.6,1.55,1.5,1.5],[1.26,1.4,1.45],[1.26,1.21,1.17,1.12,1.02],[0.6,0.6,0.55,0.5,0.4,0.26],[0.21,0.2,0.19,0.18,0.17,0.14,0.12]];
const M85_MOD_HI = [[1.02,0.55,1.26,0.31,0.17,1.5,1.6,1.67,1.7,1.71,1.73,1.74,1.75,1.76,1.76,1.77,1.79],[1.69,1.67,1.6],[1.57,1.52,1.48,1.4,1.31],[0.95,0.88,0.81,0.73,0.64,0.52],[0.35,0.32,0.3,0.28,0.26,0.25,0.22]];
const M85_MOD_LO = [[0.17,0.07,0.55,0.02,0.02,0.55,1.02,1.26,1.02,1.4,1.35,1.3,1.35,1.26,1.35,1.45,1.69],[1.5,1.45,1.52],[1.45,1.4,1.35,1.26,1.17],[0.83,0.79,0.71,0.64,0.55,0.4],[0.27,0.25,0.24,0.22,0.2,0.19,0.17]];
const M85_GAPS = [1.79,2.52,1.52,1.69,1.07,0.9,0.45,0.33];
const M85_SPIKES = [[7560,2.52],[7930,2.5],[8860,2.26],[9170,2.35],[6870,0.0],[7630,0.0],[10110,1.02],[10370,1.07],[11590,0.55],[11860,1.79],[12250,1.79],[14690,1.31],[14960,1.4],[15790,1.38],[14660,0.28],[16140,0.36],[20000,0.71],[22690,0.67],[20140,0.07]];
const M85_DIPS = [[6100,0.1],[6450,0.1],[6700,0.05],[7150,0.05],[7350,0.3],[7700,0.05],[8000,0.4],[8300,0.35],[8500,0.3],[8700,0.8],[8900,1.2],[10200,1.19],[10400,1.29],[11600,1.07],[11800,0.88],[12600,1.2],[13100,1.07],[13350,0.9]];
const M85_YLABELS = ["0", "1e-16", "2e-16", "3e-16"];

type Pt = { x: number; y: number | null };

// the sixteen panels (col, row give the slot in the 2 x 8 grid)
const PANELS = [
  { name: "esdM0.0", col: 0, row: 0, yMax: 3, yStep: 1, yMinor: 0.2, yLabels: M00_YLABELS, obsHi: M00_OBS_HI, obsLo: M00_OBS_LO, modHi: M00_MOD_HI, modLo: M00_MOD_LO, gaps: M00_GAPS, spikes: M00_SPIKES, dips: M00_DIPS },
  { name: "esdM1.0", col: 0, row: 1, yMax: 3, yStep: 1, yMinor: 0.2, yLabels: M10_YLABELS, obsHi: M10_OBS_HI, obsLo: M10_OBS_LO, modHi: M10_MOD_HI, modLo: M10_MOD_LO, gaps: M10_GAPS, spikes: M10_SPIKES, dips: M10_DIPS },
  { name: "esdM2.0", col: 0, row: 2, yMax: 3, yStep: 1, yMinor: 0.2, yLabels: M20_YLABELS, obsHi: M20_OBS_HI, obsLo: M20_OBS_LO, modHi: M20_MOD_HI, modLo: M20_MOD_LO, gaps: M20_GAPS, spikes: M20_SPIKES, dips: M20_DIPS },
  { name: "esdM3.5", col: 0, row: 3, yMax: 2.5, yStep: 1, yMinor: 0.2, yLabels: M35_YLABELS, obsHi: M35_OBS_HI, obsLo: M35_OBS_LO, modHi: M35_MOD_HI, modLo: M35_MOD_LO, gaps: M35_GAPS, spikes: M35_SPIKES, dips: M35_DIPS },
  { name: "esdM4.5", col: 0, row: 4, yMax: 2.99, yStep: 1, yMinor: 0.2, yLabels: M45_YLABELS, obsHi: M45_OBS_HI, obsLo: M45_OBS_LO, modHi: M45_MOD_HI, modLo: M45_MOD_LO, gaps: M45_GAPS, spikes: M45_SPIKES, dips: M45_DIPS },
  { name: "esdM5.5", col: 0, row: 5, yMax: 14.98, yStep: 5, yMinor: 1, yLabels: M55_YLABELS, obsHi: M55_OBS_HI, obsLo: M55_OBS_LO, modHi: M55_MOD_HI, modLo: M55_MOD_LO, gaps: M55_GAPS, spikes: M55_SPIKES, dips: M55_DIPS },
  { name: "esdM6.5", col: 0, row: 6, yMax: 2.5, yStep: 1, yMinor: 0.2, yLabels: M65_YLABELS, obsHi: M65_OBS_HI, obsLo: M65_OBS_LO, modHi: M65_MOD_HI, modLo: M65_MOD_LO, gaps: M65_GAPS, spikes: M65_SPIKES, dips: M65_DIPS },
  { name: "esdM7.5", col: 0, row: 7, yMax: 4.99, yStep: 2, yMinor: 0.4, yLabels: M75_YLABELS, obsHi: M75_OBS_HI, obsLo: M75_OBS_LO, modHi: M75_MOD_HI, modLo: M75_MOD_LO, gaps: M75_GAPS, spikes: M75_SPIKES, dips: M75_DIPS },
  { name: "esdM0.5", col: 1, row: 0, yMax: 8, yStep: 2, yMinor: 0.4, yLabels: M05_YLABELS, obsHi: M05_OBS_HI, obsLo: M05_OBS_LO, modHi: M05_MOD_HI, modLo: M05_MOD_LO, gaps: M05_GAPS, spikes: M05_SPIKES, dips: M05_DIPS },
  { name: "esdM1.5", col: 1, row: 1, yMax: 10, yStep: 2, yMinor: 0.5, yLabels: M15_YLABELS, obsHi: M15_OBS_HI, obsLo: M15_OBS_LO, modHi: M15_MOD_HI, modLo: M15_MOD_LO, gaps: M15_GAPS, spikes: M15_SPIKES, dips: M15_DIPS },
  { name: "esdM3.0", col: 1, row: 2, yMax: 8, yStep: 2, yMinor: 0.4, yLabels: M30_YLABELS, obsHi: M30_OBS_HI, obsLo: M30_OBS_LO, modHi: M30_MOD_HI, modLo: M30_MOD_LO, gaps: M30_GAPS, spikes: M30_SPIKES, dips: M30_DIPS },
  { name: "esdM4.0", col: 1, row: 3, yMax: 2, yStep: 1, yMinor: 0.2, yLabels: M40_YLABELS, obsHi: M40_OBS_HI, obsLo: M40_OBS_LO, modHi: M40_MOD_HI, modLo: M40_MOD_LO, gaps: M40_GAPS, spikes: M40_SPIKES, dips: M40_DIPS },
  { name: "esdM5.0", col: 1, row: 4, yMax: 2, yStep: 1, yMinor: 0.2, yLabels: M50_YLABELS, obsHi: M50_OBS_HI, obsLo: M50_OBS_LO, modHi: M50_MOD_HI, modLo: M50_MOD_LO, gaps: M50_GAPS, spikes: M50_SPIKES, dips: M50_DIPS },
  { name: "esdM6.0", col: 1, row: 5, yMax: 8, yStep: 2, yMinor: 0.4, yLabels: M60_YLABELS, obsHi: M60_OBS_HI, obsLo: M60_OBS_LO, modHi: M60_MOD_HI, modLo: M60_MOD_LO, gaps: M60_GAPS, spikes: M60_SPIKES, dips: M60_DIPS },
  { name: "esdM7.0", col: 1, row: 6, yMax: 6.55, yStep: 2, yMinor: 0.4, yLabels: M70_YLABELS, obsHi: M70_OBS_HI, obsLo: M70_OBS_LO, modHi: M70_MOD_HI, modLo: M70_MOD_LO, gaps: M70_GAPS, spikes: M70_SPIKES, dips: M70_DIPS },
  { name: "esdM8.5", col: 1, row: 7, yMax: 3, yStep: 1, yMinor: 0.2, yLabels: M85_YLABELS, obsHi: M85_OBS_HI, obsLo: M85_OBS_LO, modHi: M85_MOD_HI, modLo: M85_MOD_LO, gaps: M85_GAPS, spikes: M85_SPIKES, dips: M85_DIPS },
];
type PanelSpec = (typeof PANELS)[number];

// page geometry (px)
const PLOT_LEFT = [227, 1246];
const PLOT_TOP = 113;
const ROW_PITCH = 257.4;
const PLOT_W = 793;
const PLOT_H = 212;
const AXIS_W = 90;
const PAD = 15;
const PAD_RIGHT = 45;
const X_AXIS_H = 110;
const LAST_ROW = 7;

// upper and lower edge of a band, with a single thin line across each gap between windows
function band(hi: number[][], lo: number[][], gaps: number[] | null) {
  const top: Pt[] = [];
  const bot: Pt[] = [];
  WINDOWS.forEach((grid, s) => {
    const h = hi[s] || [];
    const l = lo[s] || [];
    const n = Math.min(grid.length, h.length, l.length);
    if (!n) return;
    if (s > 0) {
      const c = gaps ? gaps[2 * s - 1] : h[0];
      top.push({ x: grid[0] - 6, y: c });
      bot.push({ x: grid[0] - 6, y: c });
    }
    for (let i = 0; i < n; i++) {
      top.push({ x: grid[i], y: h[i] });
      bot.push({ x: grid[i], y: l[i] });
    }
    if (s < WINDOWS.length - 1) {
      const c = gaps ? gaps[2 * s] : h[n - 1];
      top.push({ x: grid[n - 1] + 6, y: c });
      bot.push({ x: grid[n - 1] + 6, y: c });
    }
  });
  return { top, bot };
}

function valueAt(line: Pt[], w: number): number | null {
  for (let i = 1; i < line.length; i++) {
    const a = line[i - 1];
    const b = line[i];
    if (w >= a.x && w <= b.x && a.y != null && b.y != null) {
      const t = b.x === a.x ? 0 : (w - a.x) / (b.x - a.x);
      return a.y + t * (b.y - a.y);
    }
  }
  return null;
}

// single narrow features (emission spikes / absorption lines) hanging off a band
function sticks(marks: number[][], upper: Pt[], lower: Pt[]): Pt[] {
  const out: Pt[] = [];
  [...marks]
    .sort((a, b) => a[0] - b[0])
    .forEach(([w, v]) => {
      const hi = valueAt(upper, w);
      const lo = valueAt(lower, w);
      if (hi == null || lo == null) return;
      const base = v > hi ? hi : v < lo ? lo : null;
      if (base == null) return;
      out.push({ x: w, y: base }, { x: w, y: v }, { x: w, y: null });
    });
  return out;
}

const framePlugin = {
  id: "frame",
  afterDatasetsDraw(chart: any, _args: any, opts: any) {
    const { ctx, chartArea: a } = chart;
    const xs = chart.scales.x;
    const ys = chart.scales.y;
    ctx.save();
    ctx.strokeStyle = BLACK;
    ctx.lineWidth = 2.5;
    ctx.beginPath();
    for (let w = Math.ceil(X_MIN / X_MINOR) * X_MINOR; w <= X_MAX; w += X_MINOR) {
      const px = Math.round(xs.getPixelForValue(w));
      const len = w % X_MAJOR === 0 ? 19 : 10;
      ctx.moveTo(px, a.bottom);
      ctx.lineTo(px, a.bottom - len);
      ctx.moveTo(px, a.top);
      ctx.lineTo(px, a.top + len);
    }
    const n = Math.floor(opts.yMax / opts.yMinor + 1e-6);
    for (let k = 0; k <= n; k++) {
      const v = k * opts.yMinor;
      const r = v / opts.yStep;
      const major = Math.abs(r - Math.round(r)) < 1e-6;
      const py = Math.round(ys.getPixelForValue(v));
      const len = major ? 20 : 10;
      ctx.moveTo(a.left, py);
      ctx.lineTo(a.left + len, py);
      ctx.moveTo(a.right, py);
      ctx.lineTo(a.right - len, py);
    }
    ctx.stroke();
    ctx.lineWidth = 3;
    ctx.strokeRect(a.left, a.top, a.right - a.left, a.bottom - a.top);
    ctx.fillStyle = BLACK;
    ctx.font = `45px ${SERIF}`;
    ctx.textAlign = "right";
    ctx.textBaseline = "alphabetic";
    ctx.fillText(opts.name, a.right - 48, a.top + 78);
    ctx.restore();
  },
};

function Panel({ p }: { p: PanelSpec }) {
  const chartRef = useRef<HTMLCanvasElement | null>(null);
  const lastRow = p.row === LAST_ROW;
  const width = AXIS_W + PLOT_W + PAD_RIGHT;
  const height = PAD + PLOT_H + (lastRow ? X_AXIS_H + 5 : PAD);
  const left = PLOT_LEFT[p.col] - AXIS_W;
  const top = Math.round(PLOT_TOP + p.row * ROW_PITCH) - PAD;

  useEffect(() => {
    if (!chartRef.current) return;
    const obs = band(p.obsHi, p.obsLo, p.gaps);
    const mod = band(p.modHi, p.modLo, null);
    const line = { pointRadius: 0, tension: 0, clip: 0, spanGaps: false };

    const chart = new Chart(chartRef.current, {
      type: "line",
      data: {
        datasets: [
          { ...line, data: mod.top, borderColor: RED, borderWidth: 2, order: 0 },
          { ...line, data: mod.bot, borderColor: RED, borderWidth: 1, backgroundColor: RED, fill: "-1", order: 0 },
          { ...line, data: sticks(p.dips, mod.top, mod.top), borderColor: RED, borderWidth: 2, order: 0 },
          { ...line, data: obs.top, borderColor: BLACK, borderWidth: 1.5, order: 1 },
          { ...line, data: obs.bot, borderColor: BLACK, borderWidth: 1, backgroundColor: BLACK, fill: "-1", order: 1 },
          { ...line, data: sticks(p.spikes, obs.top, obs.bot), borderColor: BLACK, borderWidth: 1.6, order: 1 },
        ],
      },
      options: {
        responsive: false,
        animation: false,
        events: [],
        layout: { padding: { top: PAD, right: PAD_RIGHT, bottom: lastRow ? 5 : PAD, left: 0 } },
        plugins: {
          legend: { display: false },
          tooltip: { enabled: false },
          frame: { name: p.name, yMax: p.yMax, yStep: p.yStep, yMinor: p.yMinor },
        } as any,
        scales: {
          x: {
            type: "linear",
            min: X_MIN,
            max: X_MAX,
            display: lastRow,
            position: "bottom",
            grid: { display: false, drawTicks: false },
            border: { display: false },
            afterBuildTicks: (axis: any) => {
              axis.ticks = X_TICKS.map((v) => ({ value: v }));
            },
            afterFit: (axis: any) => {
              if (lastRow) axis.height = X_AXIS_H;
              // the canvas already leaves room for the "25000" overhang
              axis.paddingLeft = 0;
              axis.paddingRight = 0;
            },
            ticks: {
              autoSkip: false,
              maxRotation: 0,
              padding: 17,
              color: BLACK,
              font: { family: SERIF, size: 31 },
              callback: (v: any) => String(v),
            },
            title: {
              display: true,
              text: X_TITLE,
              color: BLACK,
              font: { family: SERIF, size: 42 },
              padding: { top: 0, bottom: 0 },
            },
          },
          y: {
            type: "linear",
            min: 0,
            max: p.yMax,
            grid: { display: false, drawTicks: false },
            border: { display: false },
            afterBuildTicks: (axis: any) => {
              axis.ticks = p.yLabels.map((_, i) => ({ value: i * p.yStep }));
            },
            afterFit: (axis: any) => {
              axis.width = AXIS_W;
              // the canvas already leaves room for the top and bottom label overhang
              axis.paddingTop = 0;
              axis.paddingBottom = 0;
            },
            ticks: {
              autoSkip: false,
              padding: 22,
              color: BLACK,
              font: { family: SERIF, size: 20 },
              callback: (_v: any, i: number) => p.yLabels[i],
            },
          },
        },
      } as any,
      plugins: [framePlugin],
    });

    return () => {
      chart.destroy();
    };
  }, []);

  return (
    <canvas
      ref={chartRef}
      width={width}
      height={height}
      style={{ position: "absolute", left, top, width, height }}
    />
  );
}

export default function App() {
  return (
    <div style={{ position: "absolute", left: 0, top: 0, width: 2263, height: 2263, background: "#fff" }}>
      {PANELS.map((p) => (
        <Panel key={p.name} p={p} />
      ))}
    </div>
  );
}
